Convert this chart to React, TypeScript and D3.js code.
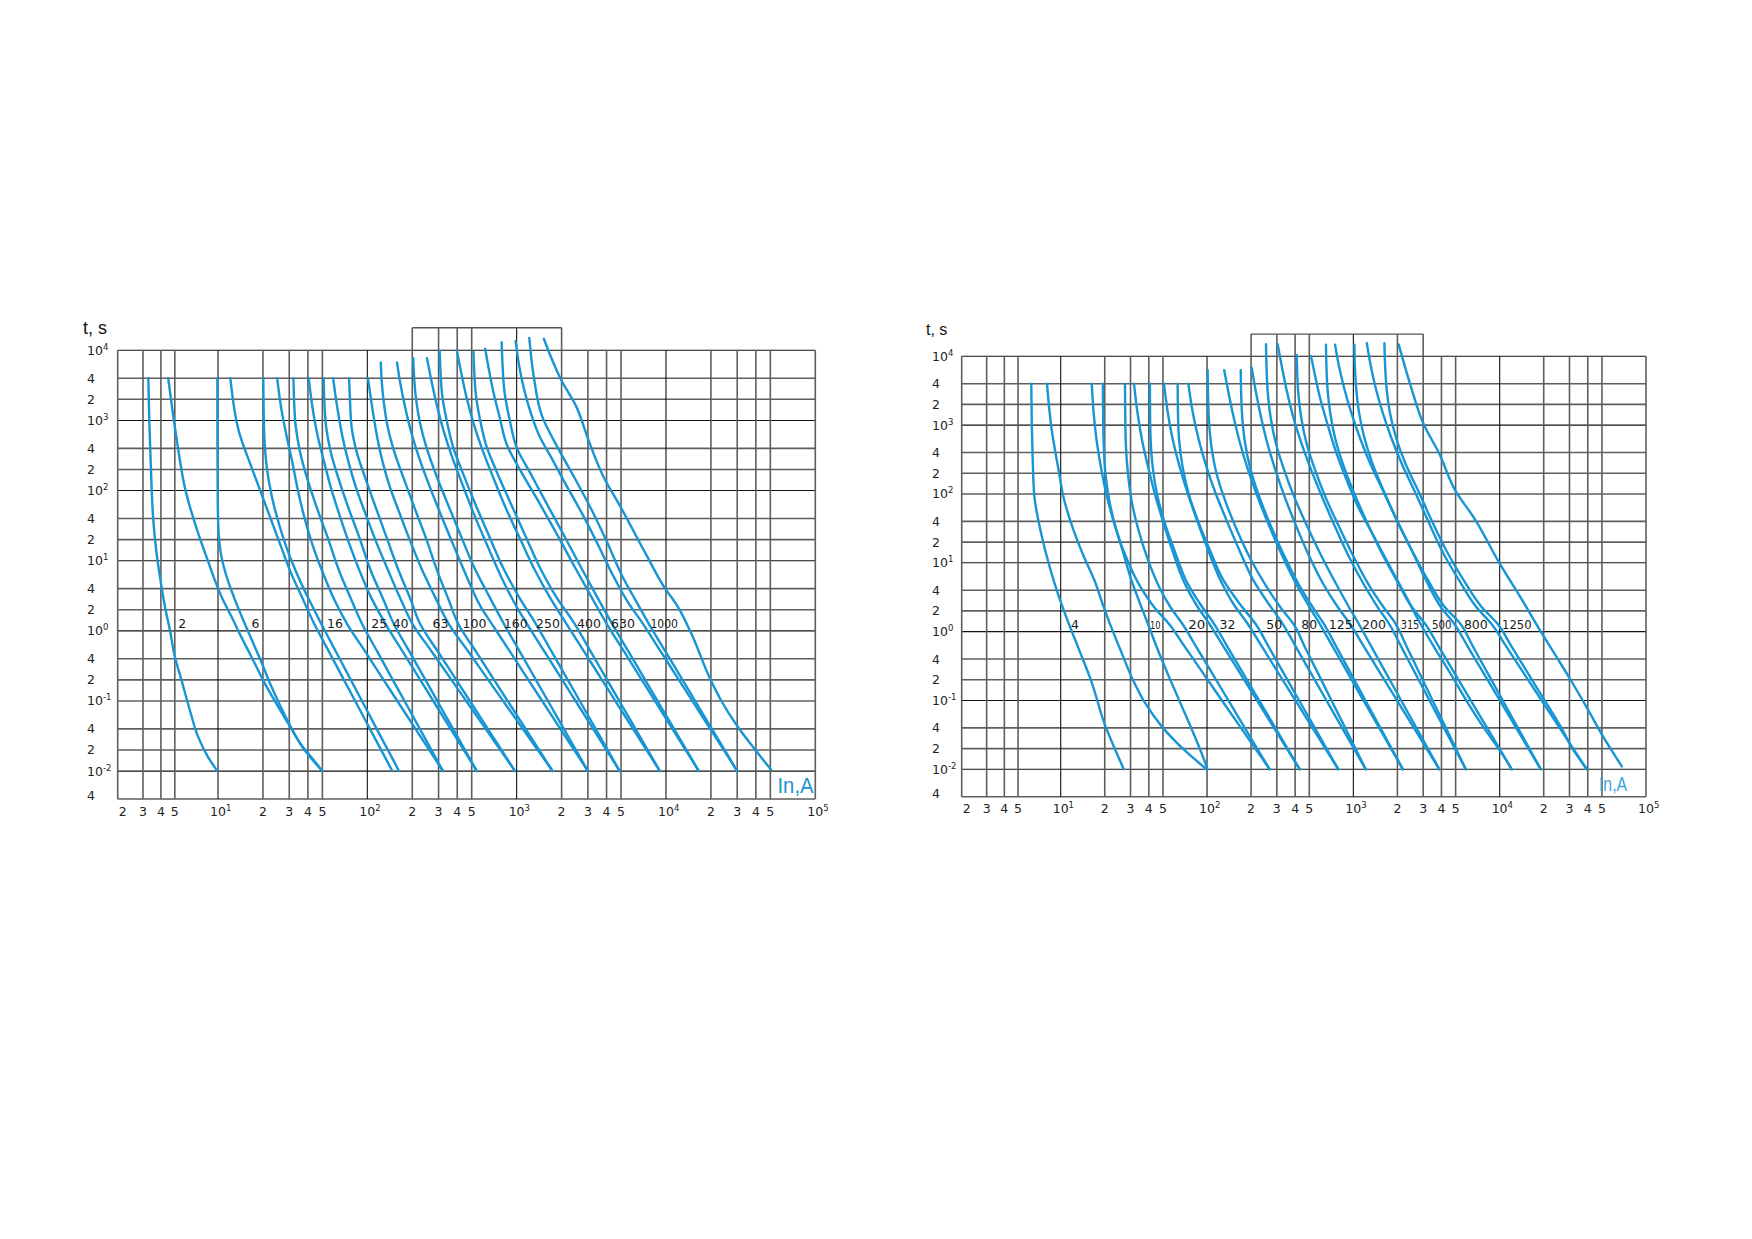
import * as d3 from "d3";

const BLUE = "#1895d4";

// grid / tick values
const X_GRID = [2, 3, 4, 5, 10, 20, 30, 40, 50, 100, 200, 300, 400, 500, 1000, 2000, 3000, 4000, 5000, 1e4, 2e4, 3e4, 4e4, 5e4, 1e5];
const X_TICK_TEXT = ["2", "3", "4", "5", "10^1", "2", "3", "4", "5", "10^2", "2", "3", "4", "5", "10^3", "2", "3", "4", "5", "10^4", "2", "3", "4", "5", "10^5"];
const Y_GRID = [0.004, 0.01, 0.02, 0.04, 0.1, 0.2, 0.4, 1, 2, 4, 10, 20, 40, 100, 200, 400, 1000, 2000, 4000, 1e4];
const Y_TICK_TEXT = ["4", "10^-2", "2", "4", "10^-1", "2", "4", "10^0", "2", "4", "10^1", "2", "4", "10^2", "2", "4", "10^3", "2", "4", "10^4"];
const BOX_TOP = 21000;
const LEFT_BOX = [200, 2000];
const RIGHT_BOX = [200, 3000];

// rating labels and the current where each label sits
const LEFT_RATINGS = ["2", "6", "16", "25", "40", "63", "100", "160", "250", "400", "630", "1000"];
const LEFT_LABEL_AT = [5.64, 17.8, 60.7, 120, 167, 309, 522, 985, 1620, 3050, 5150, 9730];
const RIGHT_RATINGS = ["4", "10", "20", "32", "50", "80", "125", "200", "315", "500", "800", "1250"];
const RIGHT_LABEL_AT = [12.5, 44.2, 85.1, 138, 288, 500, 820, 1383, 2440, 4020, 6870, 13100];

type Pt = [number, number]; // [current A, time s]

// left sheet: for every rating a pre-arcing and an operating curve
const LEFT_CURVES: Pt[][] = [
  // 2 A
  [[3.27, 4000], [3.32, 1000], [3.41, 200], [3.54, 38], [3.73, 12.8], [4.0, 4.8], [4.27, 2.2], [4.62, 1.03], [5.0, 0.43], [5.56, 0.2], [6.35, 0.075], [7.26, 0.031], [8.5, 0.016], [9.9, 0.01]],
  [[4.5, 4000], [5.08, 660], [6.0, 92], [7.26, 25], [8.5, 10], [9.6, 5], [10.6, 3], [12.3, 1.6], [14.4, 0.8], [17, 0.4], [20, 0.2], [24, 0.1], [30.2, 0.044], [38, 0.02], [50, 0.01]],
  // 6 A
  [[9.9, 4000], [9.9, 1000], [9.93, 200], [9.97, 60], [10.1, 25], [10.5, 12], [11.4, 6], [12.8, 3], [14.6, 1.5], [16.8, 0.75], [19.3, 0.38], [22.5, 0.17], [26.5, 0.08], [30.5, 0.044], [37, 0.022], [43, 0.015], [50, 0.01]],
  [[12.1, 4000], [13.9, 660], [16.7, 220], [19.9, 81], [22.7, 38], [26.4, 16], [30.9, 6.6], [36.3, 3.1], [44, 1.27], [55.5, 0.5], [69.7, 0.2], [87.6, 0.08], [111.8, 0.03], [128.9, 0.017], [147, 0.01]],
  // 16 A
  [[20.1, 4000], [20.2, 1500], [20.5, 500], [21.3, 200], [23, 80], [26, 30], [30.5, 11], [36.5, 4.5], [43, 2.2], [49, 1.27], [61.8, 0.5], [77.5, 0.2], [97.3, 0.08], [124, 0.03], [143, 0.017], [163, 0.01]],
  [[24.9, 4000], [26.5, 1500], [28.8, 600], [31.5, 250], [34, 110], [37.5, 45], [42.5, 18], [50, 7], [60, 2.8], [73, 1.27], [97.1, 0.5], [128.5, 0.2], [170, 0.08], [229.5, 0.03], [273, 0.017], [321, 0.01]],
  // 25 A
  [[32, 4000], [32.3, 2000], [33.2, 800], [35.5, 350], [39.5, 150], [45.5, 60], [54, 22], [65, 7], [78, 2.8], [92, 1.27], [117, 0.5], [148, 0.2], [188, 0.08], [242, 0.03], [280, 0.017], [321, 0.01]],
  [[40.5, 4000], [43, 1500], [46.5, 600], [51.5, 250], [57, 110], [64, 50], [74, 20], [88, 7.5], [106, 3], [132, 1.27], [173, 0.5], [226, 0.2], [295, 0.08], [393, 0.03], [464, 0.017], [541, 0.01]],
  // 40 A
  [[51, 4000], [51.5, 2000], [53, 800], [57, 350], [64, 150], [74, 60], [88, 22], [106, 7], [128, 2.8], [150, 1.27], [192, 0.5], [245, 0.2], [312, 0.08], [405, 0.03], [470, 0.017], [541, 0.01]],
  [[59, 4000], [63, 1500], [68, 600], [75, 250], [84, 110], [96, 50], [113, 20], [137, 7.5], [165, 3], [200, 1.27], [271, 0.5], [366, 0.2], [494, 0.08], [681, 0.03], [820, 0.017], [975, 0.01]],
  // 63 A
  [[75.5, 4000], [76.5, 2000], [78.5, 800], [85, 350], [97, 150], [113, 60], [134, 22], [163, 7], [195, 2.8], [225, 1.27], [298, 0.5], [394, 0.2], [520, 0.08], [699, 0.03], [831, 0.017], [975, 0.01]],
  [[101, 4000], [108, 1500], [116, 600], [127, 250], [142, 110], [163, 50], [192, 20], [232, 7.5], [285, 3], [350, 1.27], [477, 0.5], [645, 0.2], [874, 0.08], [1209, 0.03], [1460, 0.017], [1740, 0.01]],
  // 100 A
  [[123, 6700], [125, 3500], [129, 1800], [137, 800], [152, 350], [175, 150], [205, 60], [245, 22], [295, 7], [350, 2.8], [405, 1.27], [536, 0.5], [706, 0.2], [931, 0.08], [1251, 0.03], [1484, 0.017], [1740, 0.01]],
  [[158, 6700], [168, 3000], [181, 1400], [200, 600], [228, 250], [268, 100], [318, 40], [385, 15], [470, 5.5], [575, 2.2], [680, 1.27], [905, 0.5], [1198, 0.2], [1587, 0.08], [2143, 0.03], [2551, 0.017], [3000, 0.01]],
  // 160 A
  [[203, 7700], [206, 4000], [212, 2000], [226, 900], [250, 400], [288, 170], [340, 70], [415, 25], [520, 8], [660, 3], [820, 1.27], [1052, 0.5], [1346, 0.2], [1720, 0.08], [2236, 0.03], [2604, 0.017], [3000, 0.01]],
  [[251, 7700], [270, 3500], [293, 1600], [325, 700], [370, 300], [435, 120], [520, 45], [640, 16], [800, 5.5], [1000, 2.2], [1170, 1.27], [1541, 0.5], [2022, 0.2], [2650, 0.08], [3541, 0.03], [4190, 0.017], [4900, 0.01]],
  // 250 A
  [[305, 9800], [309, 5000], [318, 2200], [340, 1000], [375, 420], [435, 180], [520, 70], [640, 25], [810, 8], [1040, 3], [1340, 1.27], [1719, 0.5], [2199, 0.2], [2810, 0.08], [3653, 0.03], [4253, 0.017], [4900, 0.01]],
  [[398, 9800], [428, 4500], [465, 2000], [515, 900], [590, 380], [700, 150], [850, 55], [1060, 20], [1340, 7], [1700, 2.8], [2150, 1.27], [2838, 0.5], [3730, 0.2], [4900, 0.08], [6560, 0.03], [7770, 0.017], [9100, 0.01]],
  // 400 A
  [[514, 9500], [520, 5000], [535, 2200], [570, 1000], [630, 420], [740, 180], [900, 70], [1120, 25], [1430, 8], [1850, 3], [2440, 1.27], [3143, 0.5], [4033, 0.2], [5173, 0.08], [6752, 0.03], [7881, 0.017], [9100, 0.01]],
  [[615, 10500], [650, 5500], [700, 2500], [770, 1100], [860, 450], [1080, 180], [1400, 70], [1840, 25], [2460, 8], [3180, 3], [4000, 1.27], [5260, 0.5], [6884, 0.2], [9012, 0.08], [12020, 0.03], [14200, 0.017], [16600, 0.01]],
  // 630 A
  [[794, 13000], [805, 6000], [830, 2500], [900, 1000], [1000, 410], [1230, 180], [1560, 70], [2030, 25], [2700, 8], [3470, 3], [4350, 1.27], [5630, 0.5], [7250, 0.2], [9344, 0.08], [12250, 0.03], [14340, 0.017], [16600, 0.01]],
  [[984, 13500], [1040, 6000], [1120, 2800], [1240, 1300], [1420, 600], [1700, 300], [2100, 130], [2700, 50], [3500, 17], [4450, 6], [5600, 2.5], [7000, 1.27], [9260, 0.5], [12200, 0.2], [16070, 0.08], [21580, 0.03], [25590, 0.017], [30000, 0.01]],
  // 1000 A
  [[1215, 15000], [1300, 4300], [1480, 1150], [1920, 380], [2450, 150], [3150, 55], [4050, 18], [5100, 6], [6400, 2.5], [7660, 1.27], [9960, 0.5], [12900, 0.2], [16700, 0.08], [22010, 0.03], [25850, 0.017], [30000, 0.01]],
  [[1520, 14600], [1980, 3840], [2500, 1600], [3050, 500], [3800, 160], [4930, 60], [7400, 12], [9730, 4.2], [11960, 2.24], [14700, 0.94], [19900, 0.2], [23200, 0.105], [30000, 0.044], [39700, 0.02], [50500, 0.0105]],
];

// right sheet
const RIGHT_CURVES: Pt[][] = [
  // 4 A
  [[6.2, 4000], [6.25, 1000], [6.35, 300], [6.5, 98], [7.3, 26], [8.4, 8.4], [9.6, 3.45], [11.2, 1.41], [13.2, 0.58], [16.2, 0.19], [20, 0.045], [23.4, 0.02], [27, 0.01]],
  [[8.0, 4000], [8.6, 920], [9.6, 240], [10.6, 79], [12.1, 32], [14.2, 13.2], [17.1, 5.4], [19.5, 2.4], [22, 1.2], [26, 0.5], [30.5, 0.22], [38, 0.09], [50, 0.04], [72, 0.018], [99.5, 0.01]],
  // 10 A
  [[16.3, 4000], [16.8, 1500], [17.6, 600], [18.8, 250], [20.5, 100], [23, 40], [26.5, 15], [30.5, 5.5], [35, 2.5], [39.5, 1.29], [46, 0.55], [55, 0.22], [66, 0.09], [80, 0.035], [91, 0.018], [101, 0.01]],
  [[19.4, 4000], [19.5, 1500], [19.7, 500], [20.2, 200], [21.5, 80], [24, 30], [28.5, 11], [35, 4.5], [44, 2.2], [55, 1.29], [70.6, 0.6], [92.7, 0.26], [126.5, 0.1], [170.6, 0.04], [214, 0.02], [268, 0.01]],
  // 20 A
  [[27.5, 4000], [27.6, 1500], [27.9, 500], [28.8, 200], [30.5, 80], [34, 30], [39.5, 11], [47, 4.5], [56, 2.3], [68, 1.29], [84.4, 0.6], [107, 0.26], [140, 0.1], [181, 0.04], [220, 0.02], [268, 0.01]],
  [[31.7, 4000], [33.5, 1500], [36, 600], [39.5, 250], [44, 100], [50, 40], [58, 15], [69, 5.5], [84, 2.5], [104, 1.29], [130, 0.6], [166, 0.26], [219.5, 0.1], [287, 0.04], [351, 0.02], [430, 0.01]],
  // 32 A
  [[40.7, 4000], [40.8, 1500], [41.2, 600], [42.5, 250], [45.5, 100], [51, 40], [60, 15], [72, 5.5], [90, 2.5], [112, 1.29], [138, 0.6], [174, 0.26], [227, 0.1], [293, 0.04], [355, 0.02], [430, 0.01]],
  [[50.8, 4000], [54, 1500], [58.5, 600], [65, 250], [74, 100], [86, 40], [102, 15], [124, 5.5], [152, 2.5], [190, 1.29], [238, 0.6], [304, 0.26], [402, 0.1], [526, 0.04], [644, 0.02], [789, 0.01]],
  // 50 A
  [[63, 4000], [63.3, 1500], [64.5, 600], [68, 250], [75, 100], [87, 40], [105, 15], [130, 5.5], [168, 2.5], [215, 1.29], [264, 0.6], [330, 0.26], [426, 0.1], [545, 0.04], [656, 0.02], [789, 0.01]],
  [[74.5, 4000], [80, 1500], [88, 600], [99, 250], [115, 100], [137, 40], [167, 15], [208, 5.5], [265, 2.5], [330, 1.29], [405, 0.6], [507, 0.26], [655, 0.1], [838, 0.04], [1009, 0.02], [1215, 0.01]],
  // 80 A
  [[101, 6300], [101.5, 3000], [103, 1200], [107, 500], [116, 200], [133, 80], [160, 30], [200, 11], [255, 4.5], [320, 2.2], [390, 1.29], [466, 0.6], [567, 0.26], [709, 0.1], [879, 0.04], [1034, 0.02], [1215, 0.01]],
  [[131, 6300], [140, 3000], [152, 1300], [168, 550], [190, 230], [222, 90], [265, 35], [325, 13], [405, 5], [500, 2.3], [590, 1.29], [725, 0.6], [907, 0.26], [1173, 0.1], [1502, 0.04], [1809, 0.02], [2180, 0.01]],
  // 125 A
  [[170, 6300], [171, 3000], [174, 1300], [182, 550], [198, 230], [228, 90], [272, 35], [335, 13], [420, 5], [525, 2.3], [630, 1.29], [766, 0.6], [948, 0.26], [1210, 0.1], [1530, 0.04], [1826, 0.02], [2180, 0.01]],
  [[202, 6800], [216, 3000], [234, 1300], [258, 550], [292, 230], [340, 90], [405, 35], [495, 13], [620, 5], [780, 2.3], [950, 1.29], [1185, 0.6], [1508, 0.26], [1989, 0.1], [2593, 0.04], [3167, 0.02], [3870, 0.01]],
  // 200 A
  [[253, 15000], [255, 7000], [260, 3000], [272, 1300], [295, 550], [335, 230], [395, 90], [480, 35], [600, 13], [760, 5], [930, 2.3], [1090, 1.29], [1331, 0.6], [1655, 0.26], [2123, 0.1], [2696, 0.04], [3231, 0.02], [3870, 0.01]],
  [[304, 15000], [325, 7000], [350, 3200], [385, 1400], [435, 600], [505, 250], [600, 100], [730, 38], [920, 13], [1170, 5], [1480, 2.2], [1760, 1.29], [2128, 0.6], [2617, 0.26], [3316, 0.1], [4162, 0.04], [4943, 0.02], [5870, 0.01]],
  // 315 A
  [[410, 10500], [413, 6000], [420, 3000], [440, 1300], [478, 550], [545, 230], [645, 90], [790, 35], [990, 13], [1260, 5], [1600, 2.3], [1950, 1.29], [2319, 0.6], [2805, 0.26], [3480, 0.1], [4286, 0.04], [5016, 0.02], [5870, 0.01]],
  [[514, 10000], [550, 5000], [595, 2400], [660, 1100], [750, 450], [880, 180], [1060, 70], [1370, 25], [1770, 9], [2250, 3.5], [2880, 1.29], [3650, 0.55], [4700, 0.23], [6100, 0.09], [8000, 0.037], [10000, 0.019], [12100, 0.01]],
  // 500 A
  [[650, 14700], [655, 7000], [665, 3500], [695, 1500], [750, 650], [850, 270], [1000, 110], [1230, 40], [1560, 14], [1980, 5.5], [2500, 2.3], [3100, 1.29], [3841, 0.6], [4855, 0.26], [6346, 0.1], [8206, 0.04], [9963, 0.02], [12100, 0.01]],
  [[750, 14700], [800, 7000], [870, 3300], [970, 1500], [1110, 650], [1310, 270], [1600, 110], [2000, 40], [2550, 14], [3150, 5.5], [3950, 2.3], [4900, 1.29], [6070, 0.6], [7670, 0.26], [10030, 0.1], [12960, 0.04], [15730, 0.02], [19100, 0.01]],
  // 800 A
  [[1016, 14700], [1025, 7000], [1045, 3500], [1090, 1600], [1180, 700], [1340, 290], [1600, 115], [1980, 42], [2520, 15], [3250, 5.5], [4200, 2.3], [5400, 1.29], [6588, 0.6], [8186, 0.26], [10500, 0.1], [13320, 0.04], [15950, 0.02], [19100, 0.01]],
  [[1236, 15500], [1320, 7000], [1430, 3300], [1590, 1500], [1820, 650], [2150, 270], [2620, 110], [3250, 40], [4100, 14], [5300, 5.5], [6900, 2.3], [8800, 1.29], [11140, 0.6], [14410, 0.26], [19360, 0.1], [25690, 0.04], [31800, 0.02], [39400, 0.01]],
  // 1250 A
  [[1630, 15500], [1650, 7000], [1690, 3300], [1780, 1500], [1960, 650], [2280, 270], [2780, 110], [3450, 40], [4400, 14], [5700, 5.5], [7500, 2.3], [9700, 1.29], [12100, 0.6], [15400, 0.26], [20300, 0.1], [26400, 0.04], [31500, 0.02], [39400, 0.01]],
  [[2040, 14900], [2450, 3890], [3030, 1020], [3840, 396], [5000, 110], [6680, 45], [9940, 10], [13950, 3.1], [19100, 1.0], [24800, 0.41], [30500, 0.2], [39500, 0.078], [50000, 0.032], [68400, 0.011]],
];

type Frame = {
  xr: number[];
  yr: number[];
  box: number[];
  tsX: number;
  tsY: number;
  tsSize: number;
  yLabelX: number;
  xLabelDy: number;
  inX: number;
  inY: number;
  inSize: number;
  inLen: number;
  inColor: string;
  small10: boolean;
};

const LEFT_FRAME: Frame = {
  xr: [117.7, 218, 815.3], yr: [799, 350.3], box: LEFT_BOX,
  tsX: 83, tsY: 334, tsSize: 18, yLabelX: 87, xLabelDy: 17,
  inX: 777.5, inY: 793, inSize: 22, inLen: 36, inColor: "#1a93d3", small10: false,
};
const RIGHT_FRAME: Frame = {
  xr: [961.7, 1060.7, 1646], yr: [796.7, 356.3], box: RIGHT_BOX,
  tsX: 926, tsY: 335, tsSize: 16, yLabelX: 932, xLabelDy: 16.5,
  inX: 1599, inY: 790.5, inSize: 20, inLen: 28, inColor: "#3aa5df", small10: true,
};

// a few labels in the source are squeezed or spaced
const LABEL_LEN: Record<string, number> = { "1000": 27.5, "1250": 29.5, "20": 17, "315": 18.5, "500": 19.5 };

const TICK_FONT = "'DejaVu Sans', sans-serif";

function SupText({ x, y, text, anchor }: { x: number; y: number; text: string; anchor: string }) {
  const [base, exp] = text.split("^");
  return (
    <text x={x} y={y} textAnchor={anchor} fontFamily={TICK_FONT} fontSize={12.5} fill="#222">
      {base}
      {exp !== undefined && (
        <tspan dy={-5} fontSize={8.5}>{exp}</tspan>
      )}
    </text>
  );
}

function Chart({ f, curves, ratings, labelAt }: { f: Frame; curves: Pt[][]; ratings: string[]; labelAt: number[] }) {
  const x = d3.scaleLog().domain([2, 10, 1e5]).range(f.xr);
  const y = d3.scaleLog().domain([0.004, 1e4]).range(f.yr);
  const line = d3
    .line<Pt>()
    .x((d) => x(d[0]))
    .y((d) => y(d[1]))
    .curve(d3.curveMonotoneY);

  const xL = x(2), xR = x(1e5), yTop = y(1e4), yBot = y(0.004), yBox = y(BOX_TOP);
  const isDecade = (v: number) => Math.abs(Math.log10(v) - Math.round(Math.log10(v))) < 1e-9;

  return (
    <g>
      {/* horizontal grid */}
      {Y_GRID.map((v, i) => (
        <line key={"h" + i} x1={xL} x2={xR} y1={y(v)} y2={y(v)}
          stroke={isDecade(v) ? "#111" : "#5e5e5e"} strokeWidth={isDecade(v) ? 1.1 : 1.6} />
      ))}
      {/* vertical grid, the ones under the box reach up to its top */}
      {X_GRID.map((v, i) => {
        const inBox = v >= f.box[0] && v <= f.box[1];
        const edge = i === 0 || i === X_GRID.length - 1;
        return (
          <line key={"v" + i} x1={x(v)} x2={x(v)} y1={yBot} y2={inBox ? yBox : yTop}
            stroke={isDecade(v) && !edge ? "#111" : "#5e5e5e"} strokeWidth={isDecade(v) && !edge ? 1.1 : 1.6} />
        );
      })}
      <line x1={x(f.box[0])} x2={x(f.box[1])} y1={yBox} y2={yBox} stroke="#555" strokeWidth={1.4} />

      {/* curves */}
      {curves.map((c, i) => (
        <path key={"c" + i} d={line(c) ?? ""} fill="none" stroke={BLUE} strokeWidth={2.4} strokeLinecap="round" />
      ))}

      {/* rating labels */}
      {ratings.map((r, i) => {
        const small = f.small10 && r === "10";
        return (
          <text key={"r" + i} x={x(labelAt[i])} y={y(1) - 3} textAnchor="middle"
            fontFamily={TICK_FONT} fontSize={small ? 10 : 12.5} fill="#1a1a1a"
            textLength={small ? 10.5 : LABEL_LEN[r]} lengthAdjust="spacingAndGlyphs">
            {r}
          </text>
        );
      })}

      {/* y ticks */}
      {Y_GRID.map((v, i) => (
        <SupText key={"yt" + i} x={f.yLabelX} y={y(v) + (i === 0 ? 1 : 4.5)} text={Y_TICK_TEXT[i]} anchor="start" />
      ))}
      {/* x ticks */}
      {X_GRID.map((v, i) => {
        const t = X_TICK_TEXT[i];
        const sup = t.includes("^");
        const px = x(v) + (i === 0 ? 5 : 0);
        return <SupText key={"xt" + i} x={sup ? px - 8 : px} y={yBot + f.xLabelDy} text={t} anchor={sup ? "start" : "middle"} />;
      })}

      <text x={f.tsX} y={f.tsY} fontFamily="'Liberation Sans', Arial, sans-serif" fontSize={f.tsSize} fill="#111">t, s</text>
      <text x={f.inX} y={f.inY} fontFamily="'Liberation Sans', Arial, sans-serif" fontSize={f.inSize}
        fill={f.inColor} textLength={f.inLen} lengthAdjust="spacingAndGlyphs">In,A</text>
    </g>
  );
}

export default function App() {
  return (
    <svg width={1752} height={1239} style={{ position: "absolute", left: 0, top: 0, background: "#fff" }}>
      <rect width={1752} height={1239} fill="#fff" />
      <Chart f={LEFT_FRAME} curves={LEFT_CURVES} ratings={LEFT_RATINGS} labelAt={LEFT_LABEL_AT} />
      <Chart f={RIGHT_FRAME} curves={RIGHT_CURVES} ratings={RIGHT_RATINGS} labelAt={RIGHT_LABEL_AT} />
    </svg>
  );
}
